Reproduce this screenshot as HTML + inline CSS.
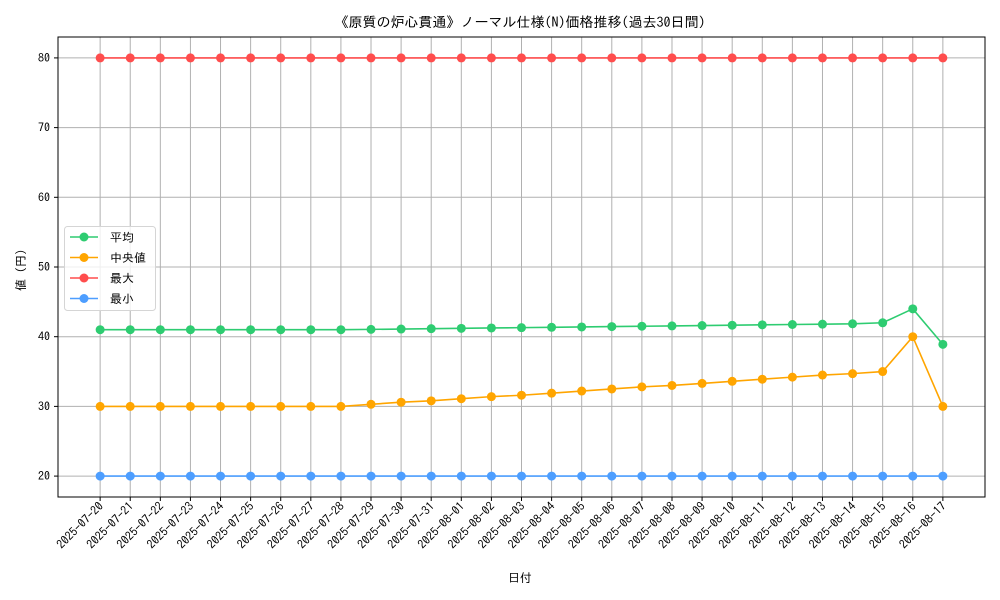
<!DOCTYPE html>
<html><head><meta charset="utf-8"><style>
body{margin:0;background:#fff;}
svg{display:block;font-family:"IPAGothic","Noto Sans CJK JP",sans-serif;}
</style></head><body>
<svg id="c" width="1000" height="600" xmlns="http://www.w3.org/2000/svg"></svg>
<script>
const dates=["2025-07-20","2025-07-21","2025-07-22","2025-07-23","2025-07-24","2025-07-25","2025-07-26","2025-07-27","2025-07-28","2025-07-29","2025-07-30","2025-07-31","2025-08-01","2025-08-02","2025-08-03","2025-08-04","2025-08-05","2025-08-06","2025-08-07","2025-08-08","2025-08-09","2025-08-10","2025-08-11","2025-08-12","2025-08-13","2025-08-14","2025-08-15","2025-08-16","2025-08-17"];
const meanVals=[41,41,41,41,41,41,41,41,41,41.05,41.1,41.15,41.2,41.25,41.3,41.35,41.4,41.45,41.5,41.55,41.6,41.65,41.7,41.75,41.8,41.85,42.0,44.0,38.9];
const medianVals=[30,30,30,30,30,30,30,30,30,30.3,30.6,30.8,31.1,31.4,31.6,31.9,32.2,32.5,32.8,33.0,33.3,33.6,33.9,34.2,34.5,34.7,35.0,40,30];
const maxVals=[80,80,80,80,80,80,80,80,80,80,80,80,80,80,80,80,80,80,80,80,80,80,80,80,80,80,80,80,80];
const minVals=[20,20,20,20,20,20,20,20,20,20,20,20,20,20,20,20,20,20,20,20,20,20,20,20,20,20,20,20,20];
const yTicks=[20,30,40,50,60,70,80];
const seriesNames=["平均","中央値","最大","最小"];
const colors=["#2ecc71","#ffa500","#ff4d4d","#4d9eff"];

const svg=document.getElementById('c');
const NS="http://www.w3.org/2000/svg";
const L=58,R=985,T=37,B=497;
const xMin=-1.4,xMax=dates.length-1+1.4,yMin=17,yMax=83;
const xs=i=>L+(i-xMin)/(xMax-xMin)*(R-L);
const ys=v=>B-(v-yMin)/(yMax-yMin)*(B-T);
function mk(t,a,p){const e=document.createElementNS(NS,t);for(const k in a)e.setAttribute(k,a[k]);(p||svg).appendChild(e);return e;}

const grid=mk('g',{});


dates.forEach((d,i)=>{mk('line',{x1:xs(i),x2:xs(i),y1:T,y2:B,stroke:'#b0b0b0','stroke-width':1},grid);});
yTicks.forEach(v=>{mk('line',{x1:L,x2:R,y1:ys(v),y2:ys(v),stroke:'#b0b0b0','stroke-width':1},grid);});

const frame=mk('rect',{x:L,y:T,width:R-L,height:B-T,fill:'none',stroke:'#000','stroke-width':1});



yTicks.forEach(v=>{
  mk('line',{x1:L-4,x2:L,y1:ys(v),y2:ys(v),stroke:'#000'});
  const t=mk('text',{x:L-8,y:ys(v)+4,'text-anchor':'end','font-size':12,fill:'#000'});
  t.textContent=v;
  
  
});
dates.forEach((d,i)=>{
  const x=xs(i);
  mk('line',{x1:x,x2:x,y1:B,y2:B+4,stroke:'#000'});
  const t=mk('text',{x:x+4,y:B+10,'text-anchor':'end','font-size':12,fill:'#000',transform:`rotate(-45 ${x+4} ${B+10})`});
  t.textContent=d;
  
  
});

const allSeries=[meanVals,medianVals,maxVals,minVals];
const snames=['series-mean','series-median','series-max','series-min'];
allSeries.forEach((vals,si)=>{
  const g=mk('g',{});
  
  
  mk('polyline',{points:vals.map((v,i)=>xs(i)+','+ys(v)).join(' '),fill:'none',stroke:colors[si],'stroke-width':1.6},g);
  vals.forEach((v,i)=>{
    const c=mk('circle',{cx:xs(i),cy:ys(v),r:4.5,fill:colors[si]},g);
    
    
  });
});

const lg=mk('g',{});


mk('rect',{x:64.5,y:226.5,width:91,height:84,rx:3,fill:'#fff','fill-opacity':0.8,stroke:'#d5d5d5'},lg);
seriesNames.forEach((n,i)=>{
  const y=237+i*20.5;
  const e=mk('g',{},lg);
  
  
  mk('line',{x1:70,x2:98,y1:y,y2:y,stroke:colors[i],'stroke-width':1.6},e);
  mk('circle',{cx:84,cy:y,r:4.5,fill:colors[i]},e);
  const t=mk('text',{x:110,y:y+4.5,'font-size':12,fill:'#000'},e);
  t.textContent=n;
});

const title=mk('text',{x:520,y:27,'text-anchor':'middle','font-size':14,fill:'#000'});
title.textContent='《原質の炉心貫通》ノーマル仕様(N)価格推移(過去30日間)';


const xt=mk('text',{x:520,y:582,'text-anchor':'middle','font-size':12,fill:'#000'});
xt.textContent='日付';


const yt=mk('text',{x:25,y:267,'text-anchor':'middle','font-size':12,fill:'#000',transform:'rotate(-90 25 267)'});
yt.textContent='値（円）';


</script>
</body></html>
